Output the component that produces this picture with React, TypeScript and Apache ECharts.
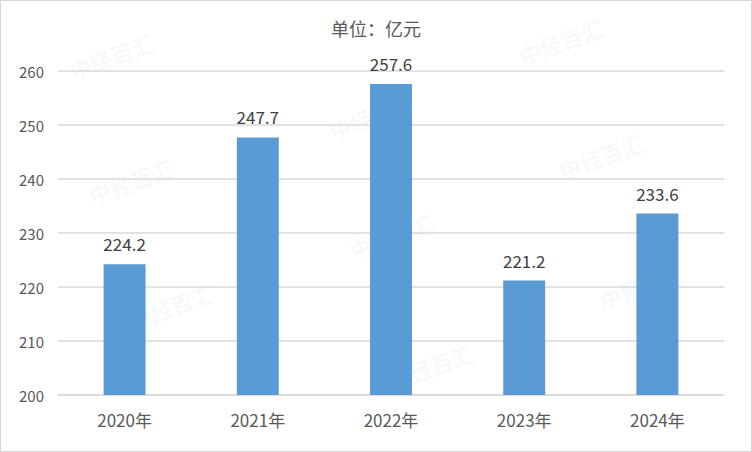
import { useEffect, useRef } from 'react';
import * as echarts from 'echarts';

const years = ['2020年', '2021年', '2022年', '2023年', '2024年'];
const values = [224.2, 247.7, 257.6, 221.2, 233.6];

// faint watermark spots (pixel positions of the "中经百汇" stamps)
const marks: [number, number][] = [
    [110, 55], [560, 40], [370, 115], [130, 180], [600, 155],
    [390, 235], [170, 305], [640, 285], [430, 365]
];

export default function App() {
    const ref = useRef<HTMLDivElement | null>(null);

    useEffect(() => {
        if (!ref.current) return;
        const chart = echarts.init(ref.current, null, { renderer: 'svg' });
        const font = '"Noto Sans CJK SC", "Noto Sans", sans-serif';

        chart.setOption({
            animation: false,
            textStyle: { fontFamily: font },
            title: {
                text: '单位：亿元',
                left: 'center',
                top: 13,
                textStyle: { fontSize: 18, fontWeight: 'normal', color: '#595959', fontFamily: font }
            },
            grid: { left: 57, right: 27, top: 70, bottom: 56, containLabel: false },
            xAxis: {
                type: 'category',
                data: years,
                axisLine: { lineStyle: { color: '#d9d9d9', width: 1.5 } },
                axisTick: { show: false },
                axisLabel: { color: '#595959', fontSize: 17, margin: 16 }
            },
            yAxis: {
                type: 'value',
                min: 200,
                max: 260,
                interval: 10,
                axisLine: { show: false },
                axisTick: { show: false },
                axisLabel: { color: '#595959', fontSize: 15, margin: 14 },
                splitLine: { lineStyle: { color: '#d9d9d9', width: 1.5 } }
            },
            series: [
                {
                    type: 'bar',
                    data: values,
                    barWidth: '31.5%',
                    itemStyle: { color: '#5b9bd5' },
                    label: {
                        show: true,
                        position: 'top',
                        distance: 12,
                        color: '#404040',
                        fontSize: 17
                    }
                }
            ],
            graphic: marks.map(([x, y]) => ({
                type: 'text',
                x,
                y,
                rotation: Math.PI / 9,
                silent: true,
                z: -1,
                style: {
                    text: '中经百汇',
                    fill: 'rgba(91,155,213,0.06)',
                    fontSize: 22,
                    fontWeight: 'bold',
                    fontFamily: font,
                    align: 'center',
                    verticalAlign: 'middle'
                }
            }))
        });

        return () => chart.dispose();
    }, []);

    return (
        <div
            style={{
                position: 'absolute',
                left: 0,
                top: 0,
                width: 752,
                height: 452,
                boxSizing: 'border-box',
                border: '1px solid #d9d9d9',
                background: '#fff'
            }}
        >
            <div ref={ref} style={{ width: 750, height: 450 }} />
        </div>
    );
}
